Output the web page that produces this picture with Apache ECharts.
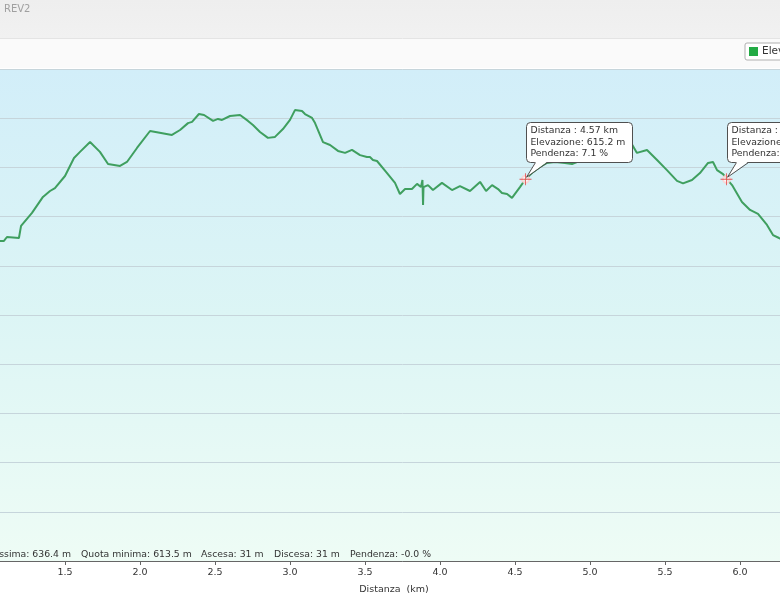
<!DOCTYPE html>
<html>
<head>
<meta charset="utf-8">
<script src="https://cdn.jsdelivr.net/npm/echarts@6/dist/echarts.min.js"></script>
<style>
html,body{margin:0;padding:0;background:#fff;overflow:hidden;width:780px;height:600px;}
#c{position:absolute;left:-10px;top:0;width:825px;height:600px;}
</style>
</head>
<body>
<div id="c"></div>
<script>
// ---- data (distance km, elevation m) ----
const distKm = [1.013,1.093,1.113,1.193,1.207,1.280,1.353,1.400,1.433,1.500,1.560,1.600,1.667,1.733,1.787,1.867,1.913,1.980,2.067,2.213,2.267,2.320,2.347,2.393,2.427,2.487,2.520,2.547,2.600,2.667,2.720,2.753,2.800,2.853,2.900,2.953,3.000,3.033,3.080,3.100,3.147,3.167,3.220,3.267,3.320,3.367,3.413,3.467,3.513,3.533,3.553,3.580,3.647,3.700,3.733,3.767,3.813,3.847,3.873,3.883,3.887,3.890,3.920,3.953,4.013,4.080,4.133,4.200,4.267,4.307,4.347,4.387,4.413,4.447,4.480,4.533,4.570,4.620,4.667,4.713,4.767,4.833,4.880,4.947,5.033,5.113,5.180,5.213,5.267,5.313,5.380,5.447,5.513,5.580,5.620,5.680,5.733,5.787,5.820,5.847,5.887,5.913,5.947,6.013,6.067,6.120,6.180,6.220,6.260,6.333];
const elevM = [590.1,590.1,591.7,591.3,596.2,601.5,608.0,610.4,611.6,616.5,623.8,626.3,630.3,626.3,621.4,620.6,622.2,627.9,634.8,633.2,635.2,638.0,638.5,641.7,641.3,638.9,639.7,639.3,640.9,641.3,638.9,637.2,634.4,632.0,632.4,635.6,639.3,643.3,642.9,641.7,640.1,638.0,630.3,629.1,626.7,625.9,627.1,625.0,624.2,624.2,623.0,622.6,617.7,613.7,609.2,611.2,611.2,613.3,612.0,614.9,604.7,612.0,612.8,610.8,613.7,610.8,612.4,610.4,614.1,610.4,612.8,611.2,609.6,609.2,607.6,612.0,615.2,618.1,620.2,621.8,622.2,621.8,621.4,623.0,627.9,632.8,636.0,636.4,630.7,625.9,627.1,623.0,618.9,614.5,613.5,614.9,617.7,621.8,622.2,618.9,617.3,615.2,612.8,605.9,602.7,601.1,596.6,592.5,591.3,588.5];

// selected markers
const markerKm = [4.57, 5.91];
const markerElev = [615.2, 615.2];
const markerSlope = ['7.1', '-6.4'];

// summary texts
const statTexts = ['Quota massima: 636.4 m', 'Quota minima: 613.5 m', 'Ascesa: 31 m', 'Discesa: 31 m', 'Pendenza: -0.0 %'];
const seriesName = 'Elevazione';
const axisTitle = 'Distanza  (km)';
const headerTitle = 'REV2';

const FONT = 'DejaVu Sans';
const OFF = 10; // container is shifted 10px to the left of the window
const lineData = distKm.map((d, i) => [d, elevM[i]]);
const markerData = markerKm.map((d, i) => [d, markerElev[i]]);

const chart = echarts.init(document.getElementById('c'), null, {renderer: 'canvas'});

const statX = [71, 81, 201, 274, 350];
const statGraphics = statTexts.map((t, i) => ({
  type: 'text', x: statX[i] + OFF, y: 555, z: 10,
  style: {text: t, fill: '#333', font: '9.3px "' + FONT + '"', textAlign: i === 0 ? 'right' : 'left', textVerticalAlign: 'middle'}
}));

const baseGraphics = [
  {type: 'rect', shape: {x: 0, y: 0, width: 825, height: 38}, z: -10,
   style: {fill: new echarts.graphic.LinearGradient(0, 0, 0, 1, [{offset: 0, color: '#eeeeee'}, {offset: 1, color: '#f1f1f1'}])}},
  {type: 'rect', shape: {x: 0, y: 38, width: 825, height: 30}, z: -10, style: {fill: '#fafafa'}},
  {type: 'line', shape: {x1: 0, y1: 38.5, x2: 825, y2: 38.5}, z: -9, style: {stroke: '#e4e4e4', lineWidth: 1}},
  {type: 'text', x: 4 + OFF, y: 9, z: 10, style: {text: headerTitle, fill: '#a0a0a0', font: '10px "' + FONT + '"', textVerticalAlign: 'middle'}},
  {type: 'text', x: 394 + OFF, y: 590, z: 10, style: {text: axisTitle, fill: '#333', font: '9.5px "' + FONT + '"', textAlign: 'center', textVerticalAlign: 'middle'}}
].concat(statGraphics);

const crossPath = 'path://M5.3,0h0.8v11.4h-0.8z M0,5.3h11.4v0.8h-11.4z';

chart.setOption({
  animation: false,
  backgroundColor: '#ffffff',
  grid: {
    left: 0, right: 0, top: 69, bottom: 39, show: true, borderWidth: 0,
    containLabel: false, outerBoundsMode: 'none',
    backgroundColor: {type: 'linear', x: 0, y: 0, x2: 0, y2: 1,
      colorStops: [{offset: 0, color: '#d2eef9'}, {offset: 0.5, color: '#dcf5f5'}, {offset: 1, color: '#eefcf5'}]}
  },
  legend: {
    data: [{name: seriesName, itemStyle: {color: '#22aa44'}}],
    left: 745 + OFF, top: 43, icon: 'rect', itemWidth: 9, itemHeight: 9,
    backgroundColor: '#ffffff', borderColor: '#b0b0b0', borderWidth: 1, borderRadius: 2,
    padding: [3, 4], itemGap: 4,
    textStyle: {fontFamily: FONT, fontSize: 10.5, color: '#333', padding: [0, 0, 0, -1]}
  },
  xAxis: {
    type: 'value', min: 1.0, max: 6.5, interval: 0.5,
    axisLine: {show: true, lineStyle: {color: '#666', width: 1}},
    axisTick: {show: true, length: 4, lineStyle: {color: '#666'}},
    axisLabel: {color: '#333', fontFamily: FONT, fontSize: 9.5, margin: 7, formatter: v => v.toFixed(1)},
    splitLine: {show: false}
  },
  yAxis: {
    type: 'value', min: 460, max: 660, interval: 20,
    axisLine: {show: false}, axisTick: {show: false}, axisLabel: {show: false},
    splitLine: {show: true, lineStyle: {color: '#c6d5db', width: 1}}
  },
  series: [
    {
      name: seriesName, type: 'line', data: lineData, showSymbol: false, symbol: 'none',
      lineStyle: {color: '#3f9f5f', width: 2}, itemStyle: {color: '#3f9f5f'}, z: 3
    },
    {
      name: 'sel-ring', type: 'scatter', data: markerData, symbol: 'emptyCircle', symbolSize: 7,
      itemStyle: {color: '#ffd0d0', borderColor: '#e03030', borderWidth: 1.8}, z: 5, silent: true
    },
    {
      name: 'sel-cross', type: 'scatter', data: markerData, symbol: crossPath, symbolSize: 12,
      itemStyle: {color: '#e03030'}, z: 6, silent: true
    }
  ],
  graphic: baseGraphics
});

// callout tooltips anchored at marker positions (computed via the chart's scales)
const callouts = [];
markerData.forEach((p, i) => {
  const px = chart.convertToPixel({gridIndex: 0}, p);
  const mx = px[0], my = px[1];
  const bx = Math.round(mx) + 0.5, by = Math.round(my - 57) + 0.5;
  const bw = 106, bh = 40;
  callouts.push({type: 'rect', z: 20, shape: {x: bx, y: by, width: bw, height: bh, r: 4},
    style: {fill: '#ffffff', stroke: '#505050', lineWidth: 1}});
  callouts.push({type: 'polygon', z: 21, shape: {points: [[bx + 9, by + bh - 1], [bx + 21, by + bh - 1], [mx + 1, my - 2]]},
    style: {fill: '#ffffff'}});
  callouts.push({type: 'polyline', z: 22, shape: {points: [[bx + 9, by + bh], [mx + 1, my - 2], [bx + 21, by + bh]]},
    style: {stroke: '#505050', lineWidth: 1, fill: null}});
  const lines = ['Distanza : ' + p[0].toFixed(2) + ' km', 'Elevazione: ' + p[1].toFixed(1) + ' m', 'Pendenza: ' + markerSlope[i] + ' %'];
  lines.forEach((t, j) => {
    callouts.push({type: 'text', z: 23, x: bx + 4, y: by + 8.5 + j * 11.5,
      style: {text: t, fill: '#333', font: '9.3px "' + FONT + '"', textVerticalAlign: 'middle'}});
  });
});
chart.setOption({graphic: baseGraphics.concat(callouts)});
</script>
</body>
</html>
